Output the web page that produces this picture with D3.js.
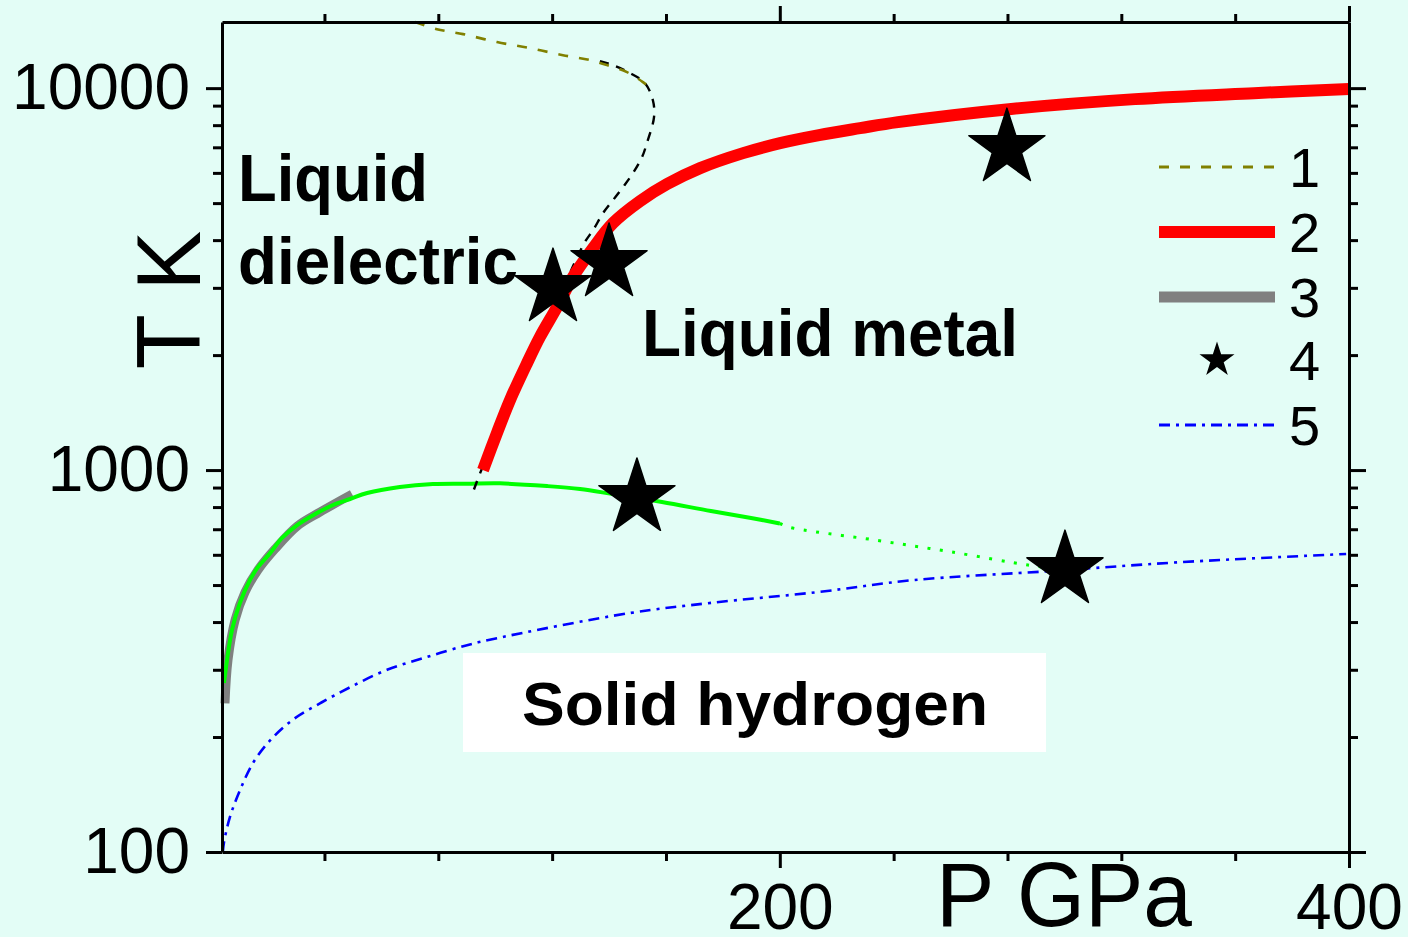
<!DOCTYPE html>
<html>
<head>
<meta charset="utf-8">
<script src="https://cdn.jsdelivr.net/npm/d3@7"></script>
<style>
html, body { margin: 0; padding: 0; background: #e3fdf6; }
svg { display: block; }
</style>
</head>
<body>
<script>
// pressure P (GPa), temperature T (K)
var curve1 = [[71.8,14900],[79.5,14270],[88.7,13850],[100.6,13200],[112.2,12730],[123.8,12200],
  [133.3,11840],[139.3,11490],[146.3,11010],[151.9,10370],[154.4,10000]];
// black dashed continuation of curve 1
var curve1b = [[136.8,11770],[141.4,11490],[147.4,10950],[152.6,10310],[155.4,9300],[155.8,8400],
  [153.3,7180],[151.6,6600],[148.4,5990],[144.9,5507],[141.4,5090],[137.9,4708],[134.4,4250],
  [131.5,3954],[128.0,3504],[122.8,2871],[115.7,2256],[108.7,1741],[101.7,1311],[94.7,982],[92.2,876]];
var curve2 = [[95.7,1000],[100.6,1250],[105.2,1525],[111.2,1906],[115.7,2230],[121.7,2671],
  [127.3,3201],[134.4,3813],[141.4,4433],[150.9,5061],[160.4,5607],[172.0,6173],[187.1,6758],
  [200.1,7178],[213.8,7534],[228.2,7856],[241.5,8147],[280.5,8810],[324.8,9360],[366.6,9703],[400,9950]];
var curve3 = [[5.05,245],[6.1,318],[8.6,405],[12.1,479],[16.6,547],[22.6,621],[30.4,713],
  [38.4,776],[49.7,865]];
var meltCurve = [[4.7,277],[7.5,381],[10.3,449],[13.8,515],[16.6,557],[20.9,606],[25.1,664],
  [30.4,718],[36.0,762],[43.0,810],[49.0,840],[55.0,871],[66.5,903],[78.1,919],[90.1,921],
  [101.7,923],[118.2,908],[129.8,892],[141.4,865],[158.6,825],[175.8,781],[189.9,749],[200,725]];
var meltExtrap = [[200,725],[203.2,709],[233.4,656],[260.5,610],[287.2,564],[294.9,554]];
var curve5 = [[4.3,100],[4.7,106],[6.8,123.5],[10.3,145],[14.9,171],[20.9,196],[28.9,222],
  [38.4,245],[49.0,270],[62.0,300],[76.0,324],[90.1,348],[100.6,363],[147.0,422],[175.8,449],
  [213.1,479],[246.8,515],[295.3,544],[341.0,574],[399.0,603]];
var starP = [120.3, 140.0, 149.8, 279.8, 300.2];
var starT = [2995, 3483, 845, 6966, 547];

var xMajor = [200, 400];
var xMinor = [40, 80, 120, 160, 240, 280, 320, 360];
var yMajor = [100, 1000, 10000];
var yMinor = [200, 300, 400, 500, 600, 700, 800, 900, 2000, 3000, 4000, 5000, 6000, 7000, 8000, 9000];
var legendLabels = ["1", "2", "3", "4", "5"];

var W = 1408, H = 937;
var L = 222, R = 1349, T = 22, B = 852;

var svg = d3.select("body").append("svg").attr("width", W).attr("height", H);
svg.append("rect").attr("width", W).attr("height", H).attr("fill", "#e3fdf6");

var x = d3.scaleLinear().domain([4, 400]).range([L, R]);
var y = d3.scaleLog().domain([100, 14900]).range([B, T]);

var line = d3.line()
  .x(function(d) { return x(d[0]); })
  .y(function(d) { return y(d[1]); })
  .curve(d3.curveCatmullRom);

// white box behind "Solid hydrogen"
svg.append("rect").attr("x", 463).attr("y", 653).attr("width", 583).attr("height", 99).attr("fill", "#ffffff");

var plot = svg.append("g");

plot.append("path").attr("d", line(curve5)).attr("fill", "none")
  .attr("stroke", "#0000ff").attr("stroke-width", 2.6).attr("stroke-dasharray", "11,6,3,6");
plot.append("path").attr("d", line(curve3)).attr("fill", "none")
  .attr("stroke", "#808080").attr("stroke-width", 9).attr("stroke-linecap", "butt");
plot.append("path").attr("d", line(meltCurve)).attr("fill", "none")
  .attr("stroke", "#00ff00").attr("stroke-width", 4);
plot.append("path").attr("d", line(meltExtrap)).attr("fill", "none")
  .attr("stroke", "#00ff00").attr("stroke-width", 3).attr("stroke-dasharray", "3,9.5");
plot.append("path").attr("d", line(curve1b)).attr("fill", "none")
  .attr("stroke", "#000000").attr("stroke-width", 2.4).attr("stroke-dasharray", "9,8");
plot.append("path").attr("d", line(curve1)).attr("fill", "none")
  .attr("stroke", "#808000").attr("stroke-width", 2.6).attr("stroke-dasharray", "10,11");
plot.append("path").attr("d", line(curve2)).attr("fill", "none")
  .attr("stroke", "#ff0000").attr("stroke-width", 12);

var star = d3.symbol().type(d3.symbolStar).size(1796);
plot.selectAll(".star").data(starP).enter().append("path")
  .attr("class", "star")
  .attr("d", star)
  .attr("transform", function(d, i) { return "translate(" + x(d) + "," + y(starT[i]) + ")"; })
  .attr("fill", "#000")
  .attr("stroke", "#000").attr("stroke-width", 1.5).attr("stroke-linejoin", "round");

// axes
function styleAxis(g) {
  g.selectAll("path.domain").attr("stroke-width", 3);
  g.selectAll(".tick line").attr("stroke-width", 3);
  g.attr("font-family", "'Liberation Sans', Arial, sans-serif").attr("font-size", 64);
}

svg.append("g").attr("transform", "translate(0," + B + ")")
  .call(d3.axisBottom(x).tickValues(xMajor).tickSize(16).tickSizeOuter(0).tickPadding(16).tickFormat(d3.format("d")))
  .call(styleAxis);
svg.append("g").attr("transform", "translate(0," + B + ")")
  .call(d3.axisBottom(x).tickValues(xMinor).tickSize(9).tickFormat(""))
  .call(styleAxis).select(".domain").remove();

svg.append("g").attr("transform", "translate(0," + T + ")")
  .call(d3.axisTop(x).tickValues(xMajor).tickSize(16).tickSizeOuter(0).tickFormat(""))
  .call(styleAxis);
svg.append("g").attr("transform", "translate(0," + T + ")")
  .call(d3.axisTop(x).tickValues(xMinor).tickSize(8).tickFormat(""))
  .call(styleAxis).select(".domain").remove();

svg.append("g").attr("transform", "translate(" + L + ",0)")
  .call(d3.axisLeft(y).tickValues(yMajor).tickSize(16).tickSizeOuter(0).tickPadding(16).tickFormat(d3.format("d")))
  .call(styleAxis);
svg.append("g").attr("transform", "translate(" + L + ",0)")
  .call(d3.axisLeft(y).tickValues(yMinor).tickSize(9).tickFormat(""))
  .call(styleAxis).select(".domain").remove();

svg.append("g").attr("transform", "translate(" + R + ",0)")
  .call(d3.axisRight(y).tickValues(yMajor).tickSize(17).tickSizeOuter(0).tickFormat(""))
  .call(styleAxis);
svg.append("g").attr("transform", "translate(" + R + ",0)")
  .call(d3.axisRight(y).tickValues(yMinor).tickSize(9).tickFormat(""))
  .call(styleAxis).select(".domain").remove();

// axis titles
svg.append("text").attr("transform", "translate(200,300) rotate(-90)")
  .attr("text-anchor", "middle").attr("font-family", "'Liberation Sans', Arial, sans-serif")
  .attr("font-size", 90).text("T K");
svg.append("text").attr("x", 1064).attr("y", 926)
  .attr("text-anchor", "middle").attr("font-family", "'Liberation Sans', Arial, sans-serif")
  .attr("font-size", 90).attr("textLength", 256).attr("lengthAdjust", "spacingAndGlyphs").text("P GPa");

// region labels
var regionText = [
  {t: "Liquid", x: 238, y: 201, w: 190, s: 66},
  {t: "dielectric", x: 238, y: 284, w: 280, s: 66},
  {t: "Liquid metal", x: 642, y: 356, w: 376, s: 66},
  {t: "Solid hydrogen", x: 522, y: 725, w: 466, s: 62}
];
svg.selectAll(".region").data(regionText).enter().append("text")
  .attr("class", "region")
  .attr("x", function(d) { return d.x; }).attr("y", function(d) { return d.y; })
  .attr("font-family", "'Liberation Sans', Arial, sans-serif").attr("font-weight", "bold")
  .attr("font-size", function(d) { return d.s; })
  .attr("textLength", function(d) { return d.w; }).attr("lengthAdjust", "spacingAndGlyphs")
  .text(function(d) { return d.t; });

// legend
var lg = svg.append("g");
var ly = [167, 232, 297, 360, 425];
lg.append("line").attr("x1", 1159).attr("x2", 1275).attr("y1", ly[0]).attr("y2", ly[0])
  .attr("stroke", "#808000").attr("stroke-width", 3).attr("stroke-dasharray", "10,11");
lg.append("line").attr("x1", 1159).attr("x2", 1275).attr("y1", ly[1]).attr("y2", ly[1])
  .attr("stroke", "#ff0000").attr("stroke-width", 12);
lg.append("line").attr("x1", 1159).attr("x2", 1275).attr("y1", ly[2]).attr("y2", ly[2])
  .attr("stroke", "#808080").attr("stroke-width", 11);
lg.append("path").attr("d", d3.symbol().type(d3.symbolStar).size(380))
  .attr("transform", "translate(1217," + ly[3] + ")").attr("fill", "#000");
lg.append("line").attr("x1", 1159).attr("x2", 1275).attr("y1", ly[4]).attr("y2", ly[4])
  .attr("stroke", "#0000ff").attr("stroke-width", 3).attr("stroke-dasharray", "11,6,3,6");
lg.selectAll("text").data(legendLabels).enter().append("text")
  .attr("x", 1289).attr("y", function(d, i) { return ly[i] + 20; })
  .attr("font-family", "'Liberation Sans', Arial, sans-serif").attr("font-size", 56)
  .text(function(d) { return d; });
</script>
</body>
</html>
